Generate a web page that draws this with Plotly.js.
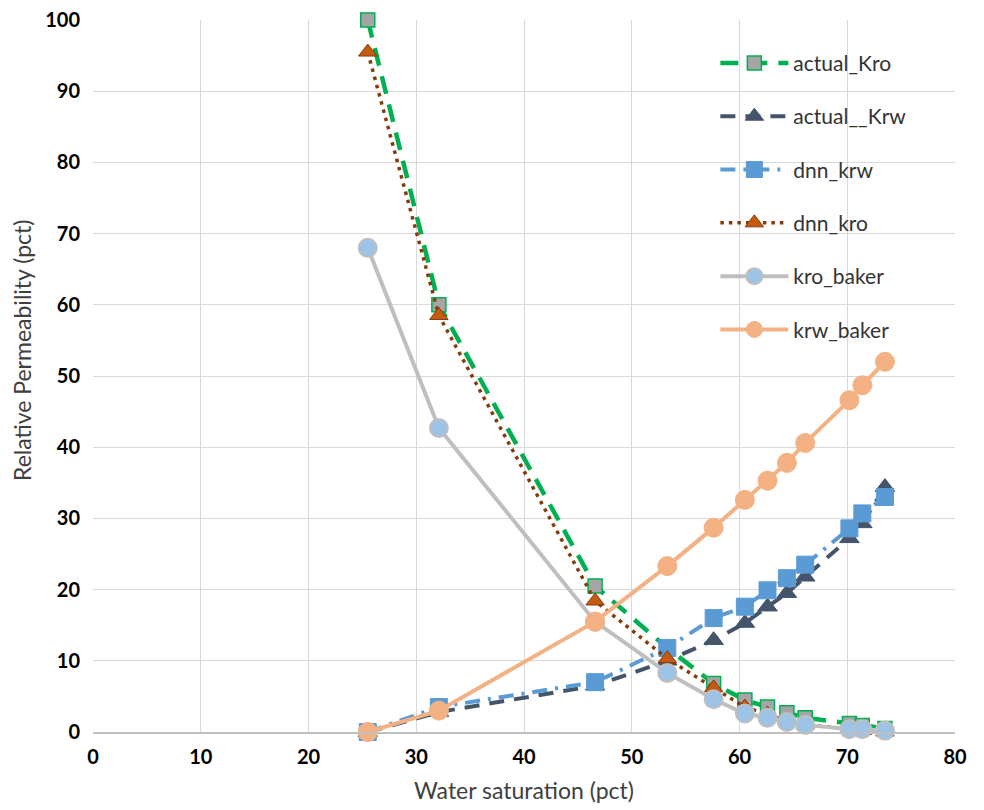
<!DOCTYPE html>
<html><head><meta charset="utf-8">
<script src="https://cdn.plot.ly/plotly-3.0.1.min.js"></script>
<style>html,body{margin:0;padding:0;background:#fff}#chart{width:984px;height:810px}</style>
</head><body><div id="chart"></div>
<script>
const sw = [25.5, 32.1, 46.6, 53.3, 57.6, 60.5, 62.6, 64.4, 66.1, 70.2, 71.4, 73.5];
const actualKro = [100, 60, 20.5, 11.8, 6.8, 4.5, 3.5, 2.7, 2.0, 1.2, 0.9, 0.5];
const actualKrw = [0, 2.8, 6.5, 10.0, 12.9, 15.3, 17.6, 19.5, 21.8, 27.2, 29.3, 34.4];
const dnnKrw = [0, 3.5, 7.0, 11.8, 16.0, 17.6, 19.9, 21.6, 23.5, 28.6, 30.7, 33.0];
const dnnKro = [95.5, 58.5, 18.4, 10.3, 6.2, 3.5, 2.5, 1.6, 1.0, 0.4, 0.2, 0.0];
const kroBaker = [68, 42.7, 15.5, 8.3, 4.6, 2.6, 2.0, 1.4, 1.0, 0.4, 0.4, 0.2];
const krwBaker = [0, 3.0, 15.5, 23.3, 28.7, 32.6, 35.3, 37.8, 40.6, 46.6, 48.7, 52.0];
const xTitle = 'Water saturation (pct)';
const yTitle = 'Relative Permeability (pct)';

const traces = [
  {name:'actual_Kro', y:actualKro, line:{color:'#00B050', width:4.5, dash:'18px,11px'},
   marker:{symbol:'square', size:14, color:'#A5A5A5', line:{color:'#00B050', width:1.5}}},
  {name:'actual__Krw', y:actualKrw, line:{color:'#44546A', width:4, dash:'15px,10px'},
   marker:{symbol:'triangle-up', size:17, color:'#44546A', line:{color:'#44546A', width:1}}},
  {name:'dnn_krw', y:dnnKrw, line:{color:'#5B9BD5', width:4, dash:'15px,8px,3px,8px'},
   marker:{symbol:'square', size:17, color:'#5B9BD5', line:{color:'#5B9BD5', width:1}}},
  {name:'dnn_kro', y:dnnKro, line:{color:'#843C0C', width:3.5, dash:'3.5px,5px'},
   marker:{symbol:'triangle-up', size:16, color:'#C55A11', line:{color:'#843C0C', width:1}}},
  {name:'kro_baker', y:kroBaker, line:{color:'#BFBFBF', width:4},
   marker:{symbol:'circle', size:18, color:'#9DC3E6', line:{color:'#BFBFBF', width:2}}},
  {name:'krw_baker', y:krwBaker, line:{color:'#F4B183', width:4},
   marker:{symbol:'circle', size:19, color:'#F4B183', line:{color:'#F4B183', width:1}}}
].map((t,i)=>Object.assign({x:sw, type:'scatter', mode:'lines+markers', cliponaxis:false, legendgroup:'g'+i}, t));

const layout = {
  width:984, height:810,
  margin:{l:93, r:29, t:20, b:78},
  paper_bgcolor:'#fff', plot_bgcolor:'#fff',
  font:{family:'Lato, "Open Sans", sans-serif', color:'#404040'},
  showlegend:true,
  legend:{x:0.722, y:0.968, xanchor:'left', yanchor:'top', bgcolor:'rgba(0,0,0,0)',
          font:{size:21, color:'#333'}, tracegroupgap:23, itemwidth:68},
  xaxis:{range:[0,80], dtick:10, tick0:0, showgrid:true, gridcolor:'#D9D9D9', gridwidth:1.3,
         zeroline:false, showline:true, linecolor:'#BFBFBF', linewidth:2, ticks:'',
         ticklabelstandoff:6,
         tickfont:{size:20, color:'#000', weight:'bold'},
         title:{text:xTitle, font:{size:23, color:'#404040'}, standoff:16}},
  yaxis:{range:[0,100], dtick:10, tick0:0, showgrid:true, gridcolor:'#D9D9D9', gridwidth:1.3,
         zeroline:false, showline:false, ticks:'',
         ticklabelstandoff:12,
         tickfont:{size:20, color:'#000', weight:'bold'}},
  annotations:[{text:yTitle, textangle:-90, showarrow:false, xref:'paper', yref:'paper',
                x:-0.0824, y:0.5365, xanchor:'center', yanchor:'middle',
                font:{size:23, color:'#404040'}}]
};
Plotly.newPlot('chart', traces, layout, {displayModeBar:false, responsive:false});
</script></body></html>
